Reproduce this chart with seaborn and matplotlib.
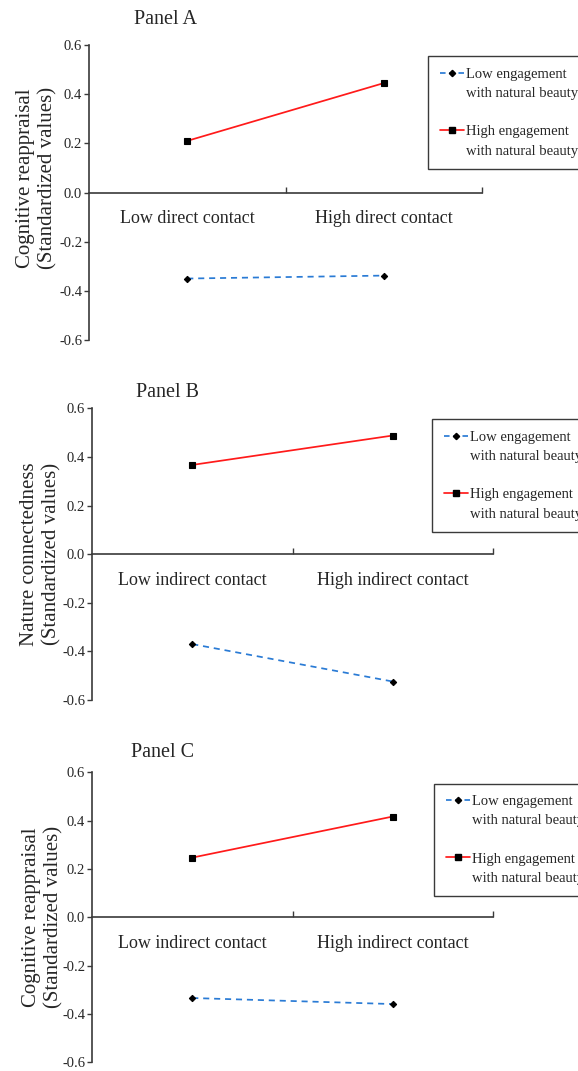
import numpy as np
import pandas as pd
import matplotlib
matplotlib.use("Agg")
import matplotlib.pyplot as plt
from matplotlib.lines import Line2D
from matplotlib.ticker import FixedLocator, FormatStrFormatter
import seaborn as sns

# ---------------- data ----------------
panel_titles = ["Panel A", "Panel B", "Panel C"]
y_labels = [
    "Cognitive reappraisal\n(Standardized values)",
    "Nature connectedness\n(Standardized values)",
    "Cognitive reappraisal\n(Standardized values)",
]
contact_A = ["Low direct contact", "High direct contact"]
contact_BC = ["Low indirect contact", "High indirect contact"]
engagement_levels = ["Low engagement with natural beauty",
                     "High engagement with natural beauty"]
low_A = [-0.350, -0.338]
high_A = [0.210, 0.445]
low_B = [-0.370, -0.524]
high_B = [0.367, 0.488]
low_C = [-0.334, -0.359]
high_C = [0.247, 0.417]
y_ticks = [-0.6, -0.4, -0.2, 0.0, 0.2, 0.4, 0.6]
legend_lines = ["Low engagement", "with natural beauty",
                "High engagement", "with natural beauty"]

BLUE = "#2a7bd5"
RED = "#ff1a1a"
AXC = "#3a3a3a"

sns.set_style("white")
plt.rcParams["font.family"] = ["Liberation Serif", "DejaVu Serif"]
plt.rcParams["axes.unicode_minus"] = False

W, H = 578, 1071
fig = plt.figure(figsize=(W / 100, H / 100), dpi=100)

panels = [
    dict(cats=contact_A, low=low_A, high=high_A, box=(89, 45, 482, 340),
         title_xy=(165, 19.5), leg_xy=(428, 56.5), lab_xy=(-0.080, 0.549)),
    dict(cats=contact_BC, low=low_B, high=high_B, box=(92, 408.3, 493, 700),
         title_xy=(168, 392.7), leg_xy=(432, 419.5), lab_xy=(-0.076, 0.5)),
    dict(cats=contact_BC, low=low_C, high=high_C, box=(92, 772.3, 493, 1062.3),
         title_xy=(163, 752.7), leg_xy=(434, 783.5), lab_xy=(-0.071, 0.5)),
]

dash = (0, (3.5, 2.8))
handle_dash = (0, (3.2, 2.12))

for i, p in enumerate(panels):
    l, t, r, b = p["box"]
    ax = fig.add_axes([l / W, 1 - b / H, (r - l) / W, (b - t) / H])
    cats = p["cats"]
    df = pd.DataFrame({
        "contact": cats + cats,
        "value": p["low"] + p["high"],
        "engagement": [engagement_levels[0]] * 2 + [engagement_levels[1]] * 2,
    })
    sns.pointplot(data=df, x="contact", y="value", hue="engagement",
                  order=cats, hue_order=engagement_levels,
                  palette=[BLUE, RED], markers=["D", "s"],
                  linestyles=["--", "-"], errorbar=None, legend=False,
                  ax=ax, markersize=4, linewidth=1.25)
    lines = ax.lines
    for ln in lines:
        ln.set_markerfacecolor("black")
        ln.set_markeredgecolor("black")
        ln.set_markeredgewidth(0.8)
    lines[0].set_linestyle(dash)
    lines[0].set_markersize(3.2)
    lines[1].set_markersize(4.0)

    ax.set_xlim(-0.5, 1.5)
    ax.set_ylim(-0.6, 0.6)
    ax.spines["bottom"].set_position(("data", 0))
    ax.spines["top"].set_visible(False)
    ax.spines["right"].set_visible(False)
    for s in ("left", "bottom"):
        ax.spines[s].set_color(AXC)
        ax.spines[s].set_linewidth(1.2)
    ax.set_yticks(y_ticks)
    ax.yaxis.set_major_formatter(FormatStrFormatter("%.1f"))
    ax.tick_params(axis="y", direction="out", length=3.5, width=1.0,
                   color=AXC, pad=1.5, labelsize=10.5, left=True)
    ax.set_xticks([0, 1])
    ax.set_xticklabels(cats)
    ax.tick_params(axis="x", which="major", length=0, pad=12.5, labelsize=13)
    ax.xaxis.set_minor_locator(FixedLocator([0.5, 1.5]))
    ax.tick_params(axis="x", which="minor", direction="in", length=4,
                   width=1.0, color=AXC, bottom=True)
    ax.set_xlabel("")
    ax.set_ylabel(y_labels[i], fontsize=15, linespacing=1.22)
    ax.yaxis.set_label_coords(*p["lab_xy"])

    fig.text(p["title_xy"][0] / W, 1 - p["title_xy"][1] / H, panel_titles[i],
             ha="center", va="center", fontsize=14.5)

    h_low = Line2D([], [], color=BLUE, linestyle=handle_dash, linewidth=1.25,
                   marker="D", markersize=3.2, markerfacecolor="black",
                   markeredgecolor="black")
    h_high = Line2D([], [], color=RED, linewidth=1.25, marker="s",
                    markersize=4.0, markerfacecolor="black",
                    markeredgecolor="black")
    blank = Line2D([], [], color="none")
    handles = [h_low, blank, blank, h_high, blank]
    labels = [legend_lines[0], legend_lines[1], "", legend_lines[2], legend_lines[3]]
    lx, ly = p["leg_xy"]
    leg = ax.legend(handles, labels, loc="upper left",
                    bbox_to_anchor=(lx / W, 1 - ly / H),
                    bbox_transform=fig.transFigure, fontsize=10.5,
                    frameon=True, fancybox=False, edgecolor=AXC,
                    framealpha=1, borderpad=0.8, labelspacing=0.4,
                    handlelength=1.65, handletextpad=0.15, borderaxespad=0)
    leg.get_frame().set_linewidth(1.0)

fig.savefig("out.png", dpi=100)
